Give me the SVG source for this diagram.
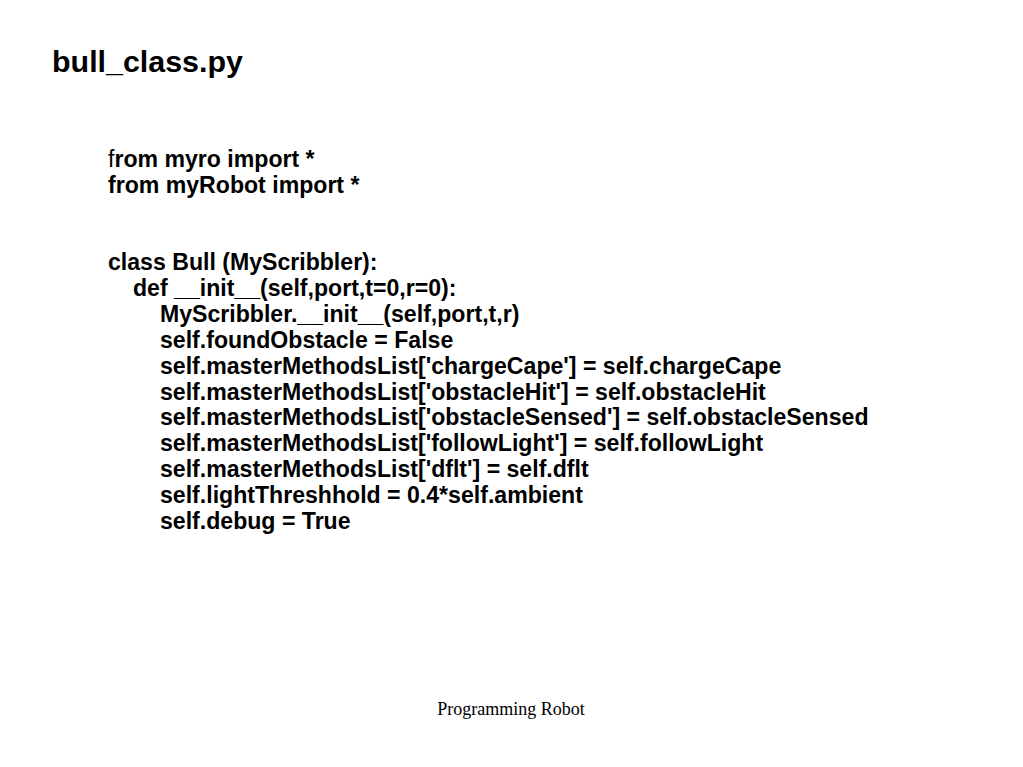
<svg xmlns="http://www.w3.org/2000/svg" width="1023" height="767" viewBox="0 0 1023 767">
<style>
.t{font-family:"Liberation Sans",Arial,sans-serif;font-weight:bold;fill:#000}
.c{font-family:"Liberation Sans",Arial,sans-serif;font-weight:bold;font-size:23.1px;fill:#000}
.f{font-family:"Liberation Serif","Times New Roman",serif;font-size:18px;fill:#000}
</style>
<rect width="1023" height="767" fill="#fff"/>
<text class="t" x="52" y="72" font-size="30.4">bull_class.py</text>
<g id="code">
<text class="c" x="108" y="167"><tspan font-weight="normal">f</tspan>rom myro import *</text>
<text class="c" x="108" y="193">from myRobot import *</text>
<text class="c" x="108" y="270">class Bull (MyScribbler):</text>
<text class="c" x="133" y="296">def __init__(self,port,t=0,r=0):</text>
<text class="c" x="160" y="322">MyScribbler.__init__(self,port,t,r)</text>
<text class="c" x="160" y="348">self.foundObstacle = False</text>
<text class="c" x="160" y="374">self.masterMethodsList['chargeCape'] = self.chargeCape</text>
<text class="c" x="160" y="400">self.masterMethodsList['obstacleHit'] = self.obstacleHit</text>
<text class="c" x="160" y="425">self.masterMethodsList['obstacleSensed'] = self.obstacleSensed</text>
<text class="c" x="160" y="451">self.masterMethodsList['followLight'] = self.followLight</text>
<text class="c" x="160" y="477">self.masterMethodsList['dflt'] = self.dflt</text>
<text class="c" x="160" y="503">self.lightThreshhold = 0.4*self.ambient</text>
<text class="c" x="160" y="529">self.debug = True</text>
</g>
<text class="f" x="511" y="715" text-anchor="middle">Programming Robot</text>
</svg>
